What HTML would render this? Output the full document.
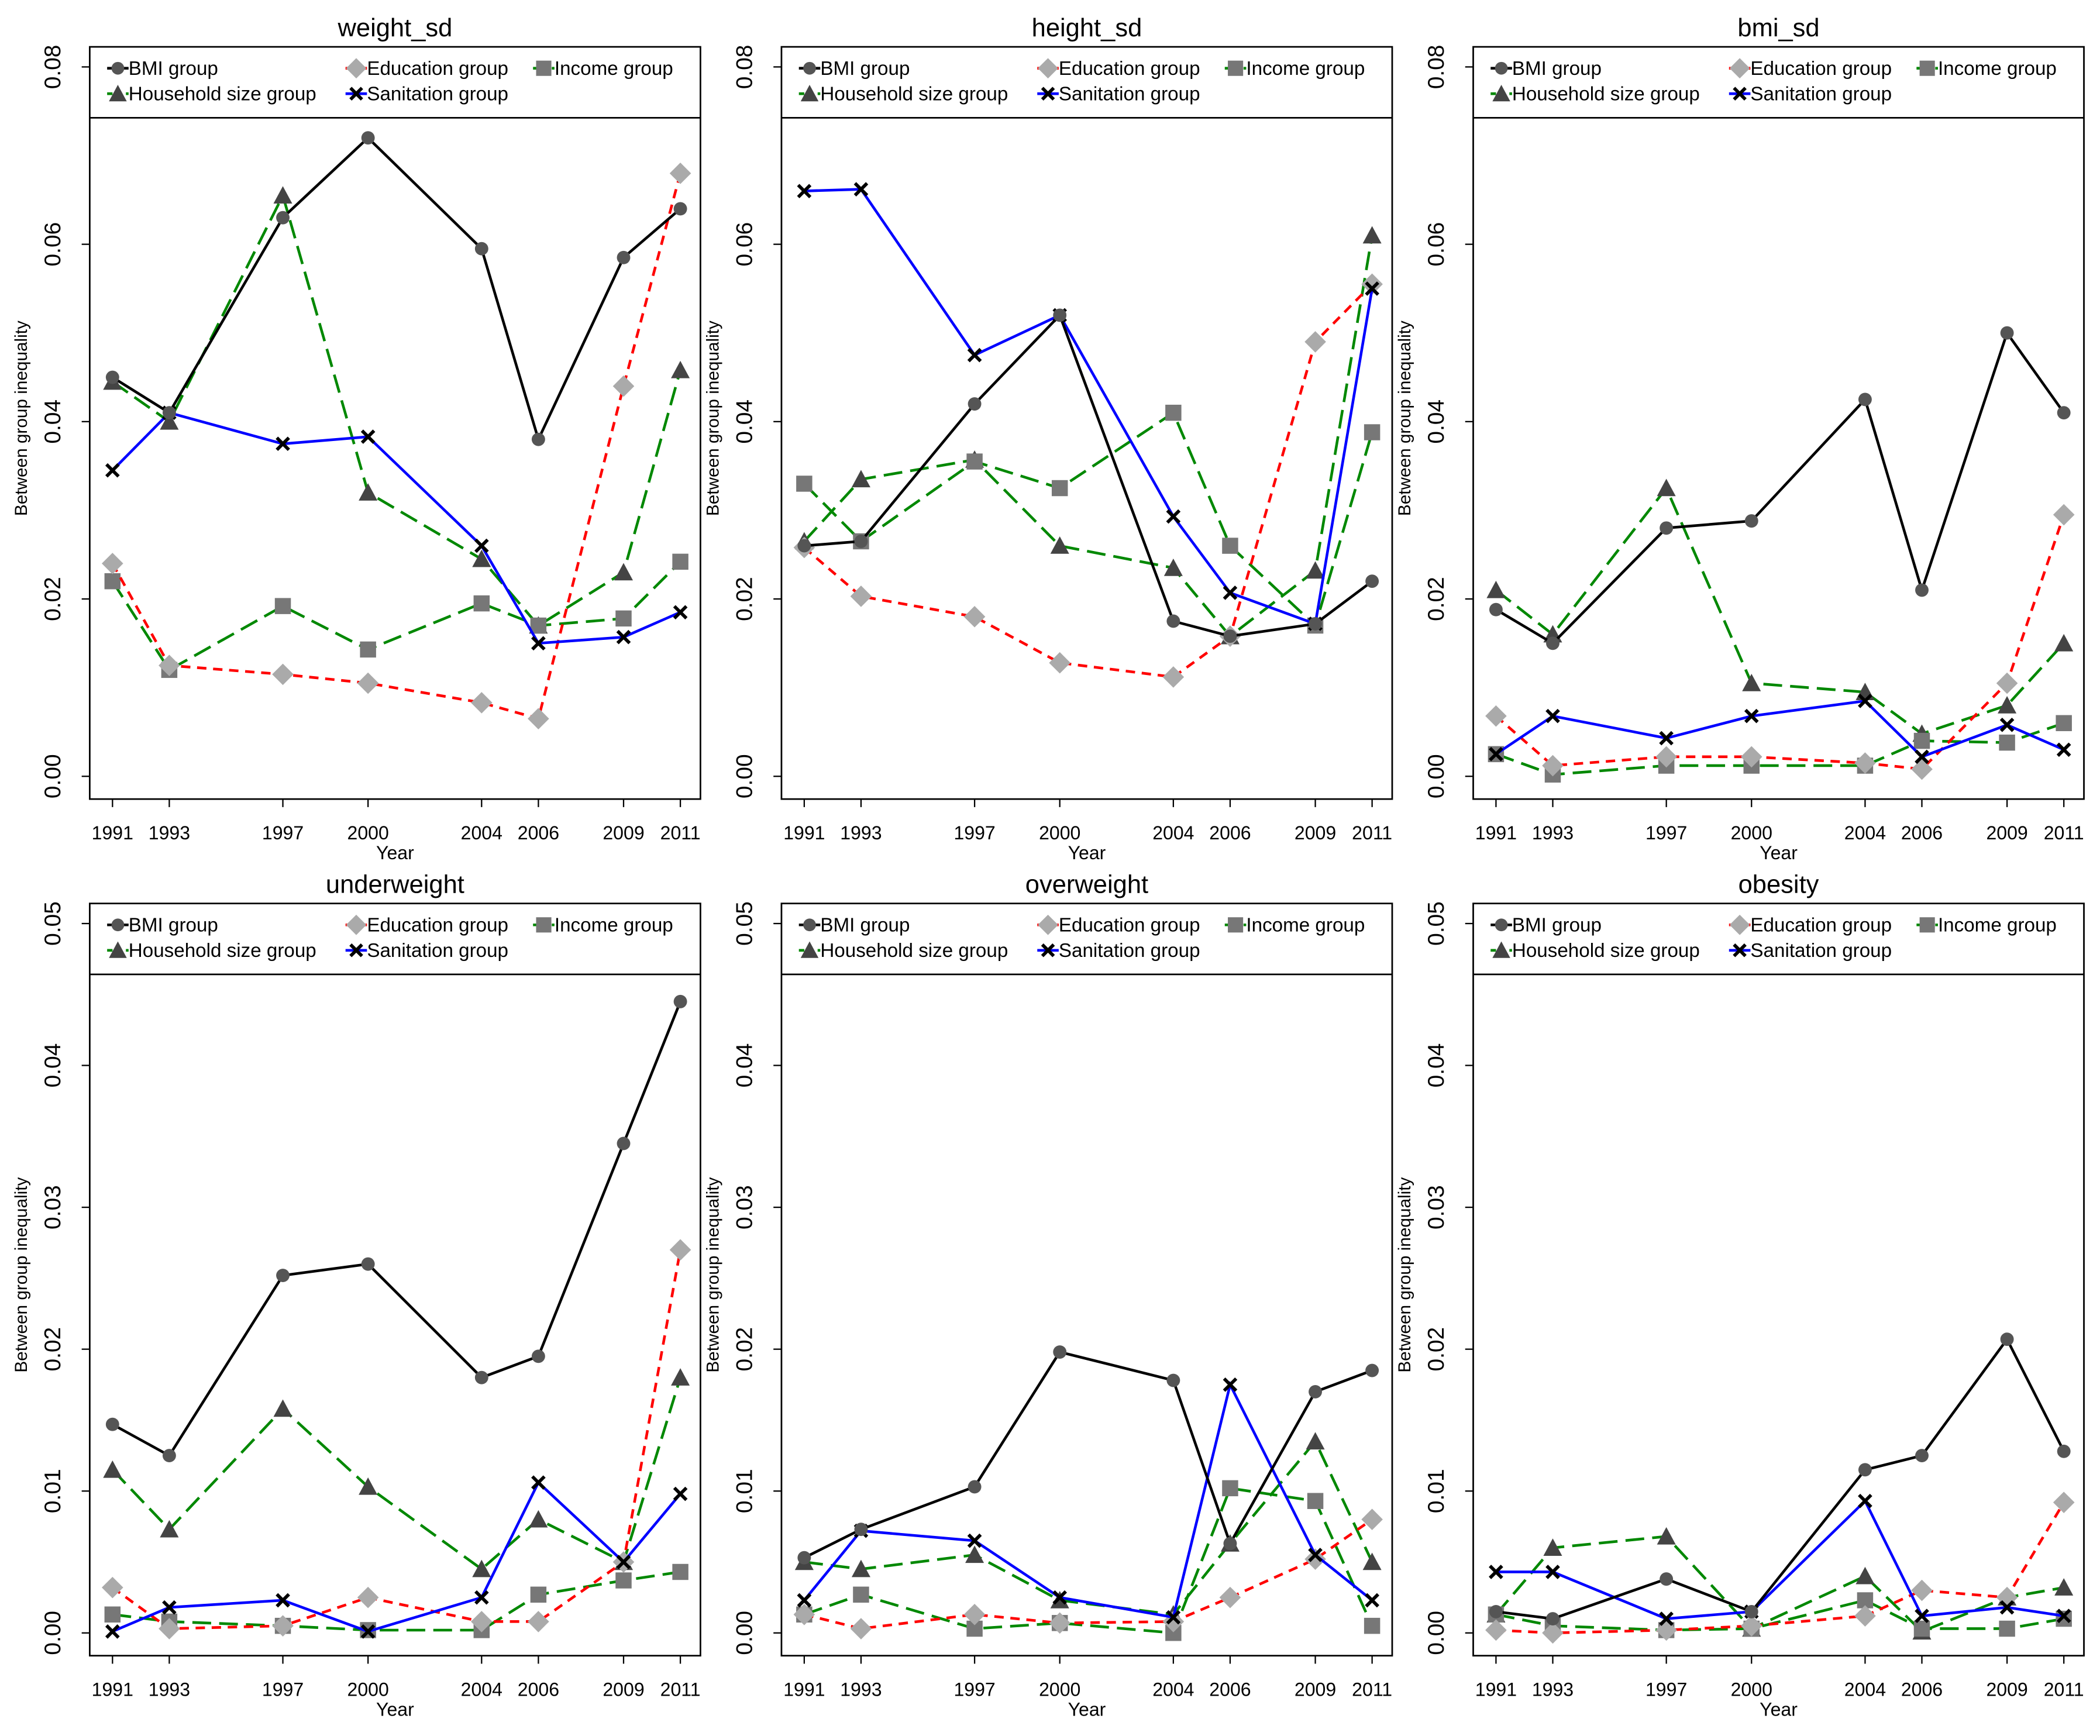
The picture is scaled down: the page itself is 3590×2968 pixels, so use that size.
<!DOCTYPE html>
<html><head><meta charset="utf-8"><style>
html,body{margin:0;padding:0;background:#fff;}
svg{display:block;}
text{font-family:"Liberation Sans",sans-serif;fill:#000;}
</style></head><body>
<svg id="fig" width="3590" height="2968" viewBox="0 0 1568 1297" preserveAspectRatio="none" xmlns="http://www.w3.org/2000/svg"></svg>
<script>
const years = [1991,1993,1997,2000,2004,2006,2009,2011];
const panelTitles = ["weight_sd","height_sd","bmi_sd","underweight","overweight","obesity"];
const seriesNames = ["BMI group","Education group","Income group","Household size group","Sanitation group"];
const topTicks = ["0.00","0.02","0.04","0.06","0.08"];
const bottomTicks = ["0.00","0.01","0.02","0.03","0.04","0.05"];
// weight_sd
const wBMI = [0.045,0.041,0.063,0.072,0.0595,0.038,0.0585,0.064];
const wEdu = [0.024,0.0125,0.0115,0.0105,0.0083,0.0065,0.044,0.068];
const wInc = [0.022,0.012,0.0192,0.0143,0.0195,0.017,0.0178,0.0242];
const wHh  = [0.0445,0.040,0.0655,0.032,0.0245,0.017,0.023,0.0458];
const wSan = [0.0345,0.041,0.0375,0.0383,0.026,0.015,0.0157,0.0185];
// height_sd
const hBMI = [0.026,0.0265,0.042,0.052,0.0175,0.0158,0.0172,0.022];
const hEdu = [0.0258,0.0203,0.018,0.0128,0.0112,0.0158,0.049,0.0555];
const hInc = [0.033,0.0265,0.0355,0.0325,0.041,0.026,0.017,0.0388];
const hHh  = [0.0265,0.0335,0.0357,0.026,0.0235,0.0158,0.0232,0.061];
const hSan = [0.066,0.0662,0.0475,0.052,0.0293,0.0207,0.0172,0.055];
// bmi_sd
const bBMI = [0.0188,0.015,0.028,0.0288,0.0425,0.021,0.050,0.041];
const bEdu = [0.0068,0.0012,0.0022,0.0022,0.0015,0.0008,0.0105,0.0295];
const bInc = [0.0025,0.0002,0.0012,0.0012,0.0012,0.004,0.0038,0.006];
const bHh  = [0.021,0.016,0.0325,0.0105,0.0095,0.0048,0.008,0.015];
const bSan = [0.0025,0.0068,0.0043,0.0068,0.0085,0.0022,0.0058,0.003];
// underweight
const uBMI = [0.0147,0.0125,0.0252,0.026,0.018,0.0195,0.0345,0.0445];
const uEdu = [0.0032,0.0003,0.0005,0.0025,0.0008,0.0008,0.005,0.027];
const uInc = [0.0013,0.0008,0.0005,0.0002,0.0002,0.0027,0.0037,0.0043];
const uHh  = [0.0115,0.0073,0.0158,0.0103,0.0045,0.008,0.005,0.018];
const uSan = [0.0001,0.0018,0.0023,0.0001,0.0025,0.0106,0.005,0.0098];
// overweight
const oBMI = [0.0053,0.0073,0.0103,0.0198,0.0178,0.0063,0.017,0.0185];
const oEdu = [0.0013,0.0003,0.0013,0.0007,0.0008,0.0025,0.0052,0.008];
const oInc = [0.0013,0.0027,0.0003,0.0007,0.0,0.0102,0.0093,0.0005];
const oHh  = [0.005,0.0045,0.0055,0.0023,0.0013,0.0063,0.0135,0.005];
const oSan = [0.0023,0.0072,0.0065,0.0025,0.0011,0.0175,0.0055,0.0023];
// obesity
const bbBMI = [0.0015,0.001,0.0038,0.0015,0.0115,0.0125,0.0207,0.0128];
const bbEdu = [0.0002,0.0,0.0002,0.0005,0.0012,0.003,0.0025,0.0092];
const bbInc = [0.0013,0.0005,0.0002,0.0003,0.0023,0.0003,0.0003,0.001];
const bbHh  = [0.0013,0.006,0.0068,0.0003,0.004,0.0001,0.0025,0.0032];
const bbSan = [0.0043,0.0043,0.001,0.0015,0.0093,0.0012,0.0018,0.0012];

const panelData = [
 [wBMI,wEdu,wInc,wHh,wSan],[hBMI,hEdu,hInc,hHh,hSan],[bBMI,bEdu,bInc,bHh,bSan],
 [uBMI,uEdu,uInc,uHh,uSan],[oBMI,oEdu,oInc,oHh,oSan],[bbBMI,bbEdu,bbInc,bbHh,bbSan]];

const NS="http://www.w3.org/2000/svg";
const svg=document.getElementById('fig');
function el(tag,attrs,parent){const e=document.createElementNS(NS,tag);for(const k in attrs)e.setAttribute(k,attrs[k]);(parent||svg).appendChild(e);return e;}

const styles=[
 {color:"#000",dash:"",mk:"circle",fill:"#555"},
 {color:"#f00",dash:"7,5",mk:"diamond",fill:"#aaa"},
 {color:"#080",dash:"14,6",mk:"square",fill:"#777"},
 {color:"#080",dash:"14,6",mk:"triangle",fill:"#444"},
 {color:"#00f",dash:"",mk:"x",fill:"#000"}];
const drawOrder=[3,2,1,4,0];

function marker(g,type,x,y,fill,s){
 s=s||1;
 if(type==="circle") return el('circle',{cx:x,cy:y,r:5*s,fill:fill},g);
 if(type==="diamond") return el('polygon',{points:`${x},${y-8*s} ${x+8*s},${y} ${x},${y+8*s} ${x-8*s},${y}`,fill:fill},g);
 if(type==="square") return el('rect',{x:x-6*s,y:y-6*s,width:12*s,height:12*s,fill:fill},g);
 if(type==="triangle") return el('polygon',{points:`${x},${y-7*s} ${x+7*s},${y+6*s} ${x-7*s},${y+6*s}`,fill:fill},g);
 return el('path',{d:`M${x-4.5*s},${y-4.5*s}L${x+4.5*s},${y+4.5*s}M${x+4.5*s},${y-4.5*s}L${x-4.5*s},${y+4.5*s}`,stroke:fill,'stroke-width':2.5,fill:'none'},g);
}

for(let p=0;p<6;p++){
 const col=p%3,row=Math.floor(p/3);
 const ox=col*516.5, oy=row*640;
 const L=67+ox,R=523+ox,T=35+oy,B=597+oy;
 const top=row===0;
 const vmax=top?0.08:0.05;
 const y0=580+oy, ytop=50+oy;
 const ys=v=>y0-(v/vmax)*(y0-ytop);
 const xs=yr=>84+ox+(yr-1991)*(424/20);
 const g=el('g',{});
 
 
 const t=el('text',{x:(L+R)/2,y:27+oy,'text-anchor':'middle','font-size':19},g);
 t.textContent=panelTitles[p];
 
 
 const fr=el('rect',{x:L,y:T,width:R-L,height:B-T,fill:'none',stroke:'#000','stroke-width':1.2},g);
 
 
 el('line',{x1:L,y1:88+oy,x2:R,y2:88+oy,stroke:'#000','stroke-width':1.2},g);
 const ticks=top?topTicks:bottomTicks;
 ticks.forEach(tk=>{
  const y=ys(parseFloat(tk));
  el('line',{x1:L-6,y1:y,x2:L,y2:y,stroke:'#000'},g);
  const tt=el('text',{x:0,y:0,'text-anchor':'middle','font-size':17,transform:`translate(${L-22},${y}) rotate(-90)`},g);
  tt.textContent=tk;
  
  
 });
 const yt=el('text',{x:0,y:0,'text-anchor':'middle','font-size':13,transform:`translate(${L-47},${(88+oy+B)/2-30}) rotate(-90)`},g);
 yt.textContent="Between group inequality";
 
 
 years.forEach(yr=>{
  const x=xs(yr);
  el('line',{x1:x,y1:B,x2:x,y2:B+6,stroke:'#000'},g);
  const xt=el('text',{x:x,y:627+oy,'text-anchor':'middle','font-size':14},g);
  xt.textContent=yr;
  
  
 });
 const xtt=el('text',{x:(L+R)/2,y:642+oy,'text-anchor':'middle','font-size':14},g);
 xtt.textContent="Year";
 
 
 const lg=el('g',{},g);
 
 
 const lpos=[[88,51],[266,51],[406,51],[88,70],[266,70]];
 lpos.forEach((lp,i)=>{
  const st=styles[i];
  const lx=lp[0]+ox,ly=lp[1]+oy;
  el('line',{x1:lx-8,y1:ly,x2:lx+8,y2:ly,stroke:st.color,'stroke-width':2,'stroke-dasharray':st.dash?"4,3":""},lg);
  marker(lg,st.mk,lx,ly,st.fill,0.95);
  const lt=el('text',{x:lx+8,y:ly+5,'font-size':14.5},lg);
  lt.textContent=seriesNames[i];
  
  
 });
 drawOrder.forEach(i=>{
  const st=styles[i], d=panelData[p][i];
  const sg=el('g',{},g);
  
  
  const pts=d.map((v,k)=>xs(years[k]).toFixed(1)+','+ys(v).toFixed(1)).join(' ');
  const pl=el('polyline',{points:pts,fill:'none',stroke:st.color,'stroke-width':2,'stroke-dasharray':st.dash},sg);
  
  
  d.forEach((v,k)=>{
   const m=marker(sg,st.mk,xs(years[k]),ys(v),st.fill,1);
   
   
  });
 });
}
</script>
</body></html>
